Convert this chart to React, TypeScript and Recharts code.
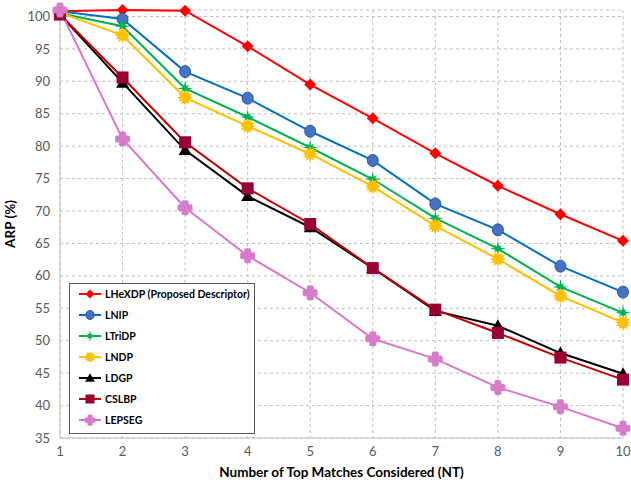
import { LineChart, Line, XAxis, YAxis, CartesianGrid } from 'recharts';

const nt = [1, 2, 3, 4, 5, 6, 7, 8, 9, 10];
const lhexdp = [100.8, 101, 100.9, 95.4, 89.5, 84.3, 78.9, 73.9, 69.5, 65.4];
const lnip = [100.8, 99.6, 91.5, 87.4, 82.3, 77.8, 71.1, 67.1, 61.5, 57.5];
const ltridp = [100.5, 98.5, 88.9, 84.5, 79.8, 74.9, 68.9, 64.2, 58.3, 54.3];
const lndp = [100.6, 97.1, 87.5, 83.1, 78.8, 73.8, 67.7, 62.6, 56.9, 52.8];
const ldgp = [100.3, 89.8, 79.4, 72.3, 67.5, 61.2, 54.6, 52.3, 48.1, 44.9];
const cslbp = [100.3, 90.6, 80.6, 73.5, 68.0, 61.2, 54.8, 51.2, 47.4, 44.0];
const lepseg = [101, 81.1, 70.5, 63.1, 57.4, 50.3, 47.2, 42.8, 39.8, 36.5];
const yTicks = [35, 40, 45, 50, 55, 60, 65, 70, 75, 80, 85, 90, 95, 100];

const data = nt.map((n, i) => ({
  nt: n,
  lhexdp: lhexdp[i],
  lnip: lnip[i],
  ltridp: ltridp[i],
  lndp: lndp[i],
  ldgp: ldgp[i],
  cslbp: cslbp[i],
  lepseg: lepseg[i],
}));

type Shape = 'diamond' | 'circle' | 'star4' | 'burst' | 'triangle' | 'square' | 'cross';

function starPoints(cx: number, cy: number, n: number, ro: number, ri: number, rot = 0) {
  const pts: string[] = [];
  for (let i = 0; i < n * 2; i++) {
    const r = i % 2 === 0 ? ro : ri;
    const a = rot + (Math.PI * i) / n - Math.PI / 2;
    pts.push(`${cx + r * Math.cos(a)},${cy + r * Math.sin(a)}`);
  }
  return pts.join(' ');
}

function Marker({ shape, cx, cy, fill, stroke, s = 1 }: { shape: Shape; cx: number; cy: number; fill: string; stroke: string; s?: number }) {
  switch (shape) {
    case 'diamond':
      return <polygon points={`${cx},${cy - 6 * s} ${cx + 6 * s},${cy} ${cx},${cy + 6 * s} ${cx - 6 * s},${cy}`} fill={fill} />;
    case 'circle':
      return <ellipse cx={cx} cy={cy} rx={5.5 * s} ry={6 * s} fill={fill} stroke={stroke} strokeWidth={1} />;
    case 'star4':
      return (
        <g fill={fill}>
          <polygon points={starPoints(cx, cy, 4, 8 * s, 1.8 * s)} />
          <polygon points={starPoints(cx, cy, 4, 5.5 * s, 1.8 * s, Math.PI / 4)} />
        </g>
      );
    case 'burst':
      return <polygon points={starPoints(cx, cy, 12, 8 * s, 5 * s)} fill={fill} />;
    case 'triangle':
      return <polygon points={`${cx},${cy - 6.5 * s} ${cx + 6.5 * s},${cy + 5 * s} ${cx - 6.5 * s},${cy + 5 * s}`} fill={fill} />;
    case 'square':
      return <rect x={cx - 6 * s} y={cy - 6 * s} width={12 * s} height={12 * s} fill={fill} />;
    case 'cross': {
      const a = 3.5 * s;
      const b = 7.5 * s;
      return (
        <g fill={fill}>
          <rect x={cx - a} y={cy - b} width={2 * a} height={2 * b} rx={2 * s} />
          <rect x={cx - b} y={cy - a} width={2 * b} height={2 * a} rx={2 * s} />
        </g>
      );
    }
  }
}

const series = [
  { key: 'lhexdp', name: 'LHeXDP (Proposed Descriptor)', line: '#FF0000', fill: '#FF0000', stroke: '#FF0000', shape: 'diamond' as Shape },
  { key: 'lnip', name: 'LNIP', line: '#0070C0', fill: '#4472C4', stroke: '#2F5597', shape: 'circle' as Shape },
  { key: 'ltridp', name: 'LTriDP', line: '#00B050', fill: '#00B050', stroke: '#00B050', shape: 'star4' as Shape },
  { key: 'lndp', name: 'LNDP', line: '#FFC000', fill: '#FFC000', stroke: '#FFC000', shape: 'burst' as Shape },
  { key: 'ldgp', name: 'LDGP', line: '#000000', fill: '#000000', stroke: '#000000', shape: 'triangle' as Shape },
  { key: 'cslbp', name: 'CSLBP', line: '#C00000', fill: '#990033', stroke: '#990033', shape: 'square' as Shape },
  { key: 'lepseg', name: 'LEPSEG', line: '#DA77CC', fill: '#D77BCB', stroke: '#D77BCB', shape: 'cross' as Shape },
];

function LegendBox() {
  return (
    <svg width={186} height={151} style={{ display: 'block' }}>
      <rect x={0.5} y={0.5} width={185} height={150} fill="#fff" stroke="#595959" strokeWidth={1} />
      {series.map((s, i) => {
        const y = 11 + i * 21;
        return (
          <g key={s.key}>
            <line x1={10} x2={32} y1={y} y2={y} stroke={s.line} strokeWidth={2} />
            <Marker shape={s.shape} cx={21} cy={y} fill={s.fill} stroke={s.stroke} s={0.75} />
            <text x={36} y={y + 4} fontSize={10.5} fontWeight="bold" fill="#000" fontFamily="Lato, sans-serif">
              {s.name}
            </text>
          </g>
        );
      })}
    </svg>
  );
}

export default function App() {
  return (
    <div style={{ position: 'absolute', left: 0, top: 0, width: 631, height: 483, background: '#fff' }}>
      <LineChart width={631} height={483} data={data} margin={{ top: 10, right: 8, left: 0, bottom: 0 }}>
        <CartesianGrid stroke="#BFBFBF" strokeDasharray="3 3" />
        <XAxis
          dataKey="nt"
          type="number"
          domain={[1, 10]}
          ticks={nt}
          interval={0}
          height={45}
          stroke="#BFBFBF"
          tickLine={false}
          tick={{ fill: '#595959', fontSize: 13, fontFamily: 'Lato, sans-serif' }}
          tickMargin={3}
          label={{ value: 'Number of Top Matches Considered (NT)', position: 'insideBottom', offset: 6, fill: '#000', fontSize: 13.5, fontWeight: 'bold', fontFamily: 'Lato, sans-serif' }}
        />
        <XAxis xAxisId="top" dataKey="nt" type="number" domain={[1, 10]} orientation="top" height={0} tick={false} tickLine={false} stroke="#C8C8C8" />
        <YAxis
          domain={[35, 101]}
          ticks={yTicks}
          interval={0}
          width={60}
          stroke="#BFBFBF"
          tickLine={false}
          tick={{ fill: '#595959', fontSize: 13, fontFamily: 'Lato, sans-serif' }}
          tickMargin={4}
          label={{ value: 'ARP (%)', angle: -90, position: 'insideLeft', offset: 10, fill: '#000', fontSize: 13.5, fontWeight: 'bold', fontFamily: 'Lato, sans-serif', style: { textAnchor: 'middle' } }}
        />
        <YAxis yAxisId="right" orientation="right" width={0} domain={[35, 101]} tick={false} tickLine={false} stroke="#C8C8C8" />
        {series.map((s) => (
          <Line
            key={s.key}
            dataKey={s.key}
            name={s.name}
            stroke={s.line}
            strokeWidth={2}
            isAnimationActive={false}
            dot={(p: any) => <Marker key={`${s.key}-${p.index}`} shape={s.shape} cx={p.cx} cy={p.cy} fill={s.fill} stroke={s.stroke} />}
            activeDot={false}
          />
        ))}
      </LineChart>
      <div style={{ position: 'absolute', left: 69, top: 283 }}>
        <LegendBox />
      </div>
    </div>
  );
}
